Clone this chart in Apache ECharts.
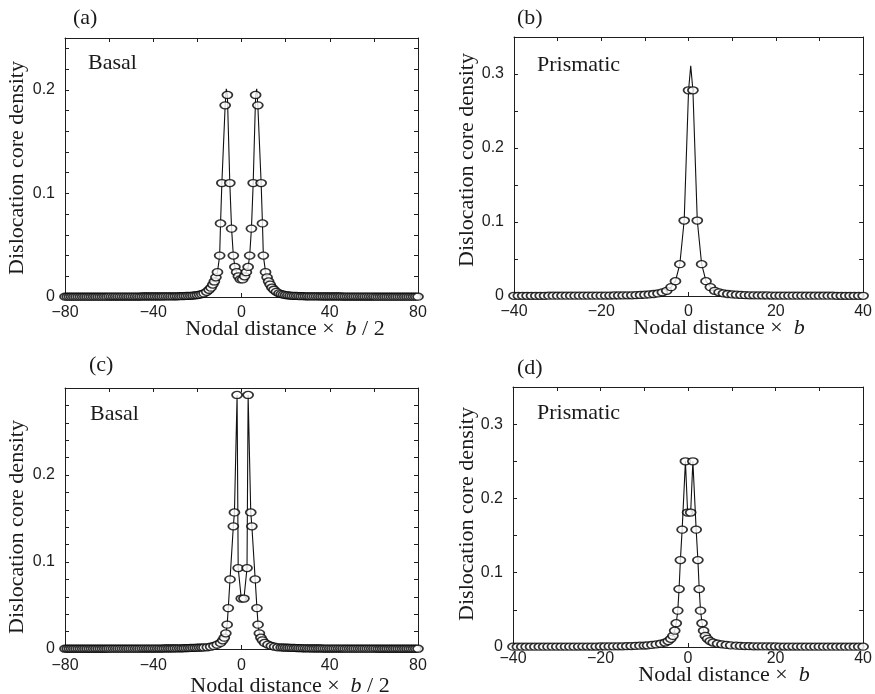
<!DOCTYPE html>
<html><head><meta charset="utf-8">
<script src="https://cdn.jsdelivr.net/npm/echarts/dist/echarts.min.js"></script>
<style>html,body{margin:0;padding:0;background:#fff}#c{width:875px;height:694px}</style>
</head><body><div id="c"></div>
<script>
// ---------- Panel (a) Basal ----------
const aTailLeftX = [-80,-79,-78,-77,-76,-75,-74,-73,-72,-71,-70,-69,-68,-67,-66,-65,-64,-63,-62,-61,-60,-59,-58,-57,-56,-55,-54,-53,-52,-51,-50,-49,-48,-47,-46,-45,-44,-43,-42,-41,-40,-39,-38,-37,-36,-35,-34,-33,-32,-31,-30,-29,-28,-27,-26,-25,-24,-23,-22,-21,-20,-19,-18,-17];
const aTailLeftY = [.0003,.0003,.0003,.0003,.0003,.0003,.0003,.0003,.0003,.0003,.0003,.0003,.0003,.0003,.0003,.0003,.0003,.0003,.0003,.0003,
 .0004,.0004,.0004,.0004,.0004,.0004,.0004,.0004,.0004,.0004,.0004,.0004,.0004,.0004,.0004,
 .0005,.0005,.0005,.0005,.0005,.0005,.0005,.0005,.0005,.0005,
 .0006,.0006,.0006,.0006,.0006,
 .0007,.0007,.0008,.0008,.0009,.001,.0011,.0012,.0014,.0016,.0019,.0023,.0028,.0035];
const aCoreX = [-15.8,-14.7,-13.8,-13.0,-12.3,-11.6,-10.9,-9.9,-9.5,-8.9,-7.4,-6.4,-5.3,-4.5,-3.7,-3.0,-2.2,-1.4,-0.5,
 0.5,1.4,2.2,3.0,3.7,4.5,5.3,6.4,7.4,8.9,9.5,9.9,10.9,11.6,12.3,13.0,13.8,14.7,15.8];
const aCoreY = [0.005,0.007,0.009,0.012,0.015,0.019,0.024,0.040,0.071,0.110,0.185,0.195,0.110,0.066,0.040,0.029,0.024,0.020,0.017,
 0.017,0.020,0.024,0.029,0.040,0.066,0.110,0.195,0.185,0.110,0.071,0.040,0.024,0.019,0.015,0.012,0.009,0.007,0.005];
const aTailRightX = [17,18,19,20,21,22,23,24,25,26,27,28,29,30,31,32,33,34,35,36,37,38,39,40,41,42,43,44,45,46,47,48,49,50,51,52,53,54,55,56,57,58,59,60,61,62,63,64,65,66,67,68,69,70,71,72,73,74,75,76,77,78,79,80];
const aTailRightY = [.0035,.0028,.0023,.0019,.0016,.0014,.0012,.0011,.001,.0009,.0008,.0008,.0007,.0007,
 .0006,.0006,.0006,.0006,.0006,
 .0005,.0005,.0005,.0005,.0005,.0005,.0005,.0005,.0005,.0005,
 .0004,.0004,.0004,.0004,.0004,.0004,.0004,.0004,.0004,.0004,.0004,.0004,.0004,.0004,.0004,
 .0003,.0003,.0003,.0003,.0003,.0003,.0003,.0003,.0003,.0003,.0003,.0003,.0003,.0003,.0003,.0003,.0003,.0003,.0003,.0003];
const aApexX = [-6.9, 6.9];
const aApexY = [0.201, 0.201];

// ---------- Panel (b) Prismatic ----------
const bX = [-40,-39,-38,-37,-36,-35,-34,-33,-32,-31,-30,-29,-28,-27,-26,-25,-24,-23,-22,-21,-20,-19,-18,-17,-16,-15,-14,-13,-12,-11,-10,-9,-8,-7,-6,-5,-4,-3,-2,-1,
 0,1,2,3,4,5,6,7,8,9,10,11,12,13,14,15,16,17,18,19,20,21,22,23,24,25,26,27,28,29,30,31,32,33,34,35,36,37,38,39,40];
const bY = [.0003,.0003,.0003,.0003,.0003,.0003,.0003,.0003,
 .0004,.0004,.0004,.0004,.0004,.0004,.0004,
 .0005,.0005,.0005,.0005,.0005,
 .0005,.0006,.0006,.0007,.0007,.0008,.0009,.001,.0012,.0014,.0017,.0021,.0027,.0035,.005,.007,.012,.020,.043,.102,
 .278,.278,.102,.043,.020,.012,.007,.005,.0035,.0027,.0021,.0017,.0014,.0012,.001,.0009,.0008,.0007,.0007,.0006,.0006,.0005,
 .0005,.0005,.0005,.0005,.0005,
 .0004,.0004,.0004,.0004,.0004,.0004,.0004,
 .0003,.0003,.0003,.0003,.0003,.0003,.0003];
const bApexX = [0.5];
const bApexY = [0.311];

// ---------- Panel (c) Basal ----------
const cTailLeftX = [-80,-79,-78,-77,-76,-75,-74,-73,-72,-71,-70,-69,-68,-67,-66,-65,-64,-63,-62,-61,-60,-59,-58,-57,-56,-55,-54,-53,-52,-51,-50,-49,-48,-47,-46,-45,-44,-43,-42,-41,-40,-39,-38,-37,-36,-35,-34,-33,-32,-31,-30,-29,-28,-27,-26,-25,-24,-23,-22,-21,-20,-19,-18,-17];
const cTailLeftY = [.0003,.0003,.0003,.0003,.0003,.0003,.0003,.0003,.0003,.0003,.0003,.0003,.0003,.0003,.0003,.0003,.0003,.0003,.0003,.0003,
 .0004,.0004,.0004,.0004,.0004,.0004,.0004,.0004,.0004,.0004,.0004,.0004,.0004,.0004,.0004,
 .0005,.0005,.0005,.0005,.0005,.0005,.0005,.0005,.0005,.0005,
 .0006,.0006,.0006,.0006,.0006,
 .0007,.0007,.0008,.0008,.0009,.001,.0011,.0012,.0013,.0014,.0015,.0016,.0017,.0018];
const cCoreX = [-15.5,-14,-12.5,-11,-9.5,-8.5,-7.8,-7.1,-6.5,-6.0,-5.2,-3.7,-3.2,-2.0,-1.5,-0.1,
 1.1,2.5,3.0,4.2,4.7,6.2,7.0,7.5,8.1,8.8,9.5,10.5,12,13.5,15,16.5];
const cCoreY = [0.002,0.0026,0.0035,0.005,0.007,0.010,0.013,0.018,0.028,0.047,0.080,0.141,0.157,0.292,0.093,0.058,
 0.058,0.093,0.292,0.157,0.141,0.080,0.047,0.028,0.018,0.013,0.010,0.007,0.005,0.0035,0.0026,0.002];
const cTailRightX = [18,19,20,21,22,23,24,25,26,27,28,29,30,31,32,33,34,35,36,37,38,39,40,41,42,43,44,45,46,47,48,49,50,51,52,53,54,55,56,57,58,59,60,61,62,63,64,65,66,67,68,69,70,71,72,73,74,75,76,77,78,79,80];
const cTailRightY = [.0018,.0017,.0016,.0015,.0014,.0013,.0012,.0011,.001,.0009,.0008,.0008,.0007,.0007,
 .0006,.0006,.0006,.0006,.0006,
 .0005,.0005,.0005,.0005,.0005,.0005,.0005,.0005,.0005,.0005,
 .0004,.0004,.0004,.0004,.0004,.0004,.0004,.0004,.0004,.0004,.0004,.0004,.0004,.0004,.0004,
 .0003,.0003,.0003,.0003,.0003,.0003,.0003,.0003,.0003,.0003,.0003,.0003,.0003,.0003,.0003,.0003,.0003,.0003,.0003];

// ---------- Panel (d) Prismatic ----------
const dTailLeftX = [-40,-39,-38,-37,-36,-35,-34,-33,-32,-31,-30,-29,-28,-27,-26,-25,-24,-23,-22,-21,-20,-19,-18,-17,-16,-15,-14,-13,-12,-11,-10];
const dTailLeftY = [.0004,.0004,.0004,.0004,.0004,.0004,.0004,.0004,
 .0005,.0005,.0005,.0005,.0005,.0005,.0005,
 .0006,.0006,.0006,.0006,.0006,
 .0007,.0007,.0008,.0008,.0009,.001,.0011,.0013,.0015,.0018,.0019];
const dCoreX = [-9.25,-8.25,-7.25,-6.25,-5.25,-4.55,-3.95,-3.45,-3.05,-2.7,-2.35,-2.05,-1.75,-1.35,-0.6,-0.1,
 0.6,1.1,1.85,2.25,2.55,2.85,3.2,3.55,3.95,4.45,5.05,5.75,6.75,7.75,8.75,9.75];
const dCoreY = [0.0022,0.0028,0.0035,0.0045,0.006,0.008,0.011,0.015,0.022,0.032,0.049,0.078,0.117,0.158,0.250,0.181,
 0.181,0.250,0.158,0.117,0.078,0.049,0.032,0.022,0.015,0.011,0.008,0.006,0.0045,0.0035,0.0028,0.0022];
const dTailRightX = [11,12,13,14,15,16,17,18,19,20,21,22,23,24,25,26,27,28,29,30,31,32,33,34,35,36,37,38,39,40];
const dTailRightY = [.0018,.0015,.0013,.0011,.001,.0009,.0008,.0008,.0007,.0007,
 .0006,.0006,.0006,.0006,.0006,
 .0005,.0005,.0005,.0005,.0005,.0005,.0005,
 .0004,.0004,.0004,.0004,.0004,.0004,.0004,.0004];

// ---------- tick label sets ----------
const xLabelsAC = [-80,-40,0,40,80];
const xLabelsBD = [-40,-20,0,20,40];
const yLabelsA = [0,0.1,0.2];
const yLabelsB = [0,0.1,0.2,0.3];
const yLabelsC = [0,0.1,0.2];
const yLabelsD = [0,0.1,0.2,0.3];

// ---------- build ----------
function zip(xs, ys){ return xs.map((x,i)=>[x, ys[i]]); }
function byX(a,b){ return a[0]-b[0]; }

const aPts = zip(aTailLeftX,aTailLeftY).concat(zip(aCoreX,aCoreY), zip(aTailRightX,aTailRightY));
const aLine = aPts.concat(zip(aApexX,aApexY)).sort(byX);
const bPts = zip(bX,bY);
const bLine = bPts.concat(zip(bApexX,bApexY)).sort(byX);
const cPts = zip(cTailLeftX,cTailLeftY).concat(zip(cCoreX,cCoreY), zip(cTailRightX,cTailRightY));
const cLine = cPts.slice().sort(byX);
const dPts = zip(dTailLeftX,dTailLeftY).concat(zip(dCoreX,dCoreY), zip(dTailRightX,dTailRightY));
const dLine = dPts.slice().sort(byX);

const panels = [
  {grid:{left:65,top:38,width:353,height:259}, xmin:-80,xmax:80,xint:20,xl:xLabelsAC, ymax:0.25,yint:0.02,yl:yLabelsA, xm:8, pts:aPts, line:aLine},
  {grid:{left:514,top:37,width:353,height:259}, xmin:-40,xmax:40,xint:10,xl:xLabelsBD, ymax:0.35,yint:0.05,yl:yLabelsB, xm:8, pts:bPts, line:bLine},
  {grid:{left:65,top:388,width:353,height:261}, xmin:-80,xmax:80,xint:20,xl:xLabelsAC, ymax:0.3,yint:0.02,yl:yLabelsC, xm:9, pts:cPts, line:cLine},
  {grid:{left:513,top:387,width:353,height:260}, xmin:-40,xmax:40,xint:10,xl:xLabelsBD, ymax:0.35,yint:0.05,yl:yLabelsD, xm:4, pts:dPts, line:dLine}
];

const AX = '#1e1e1e';
const labelFont = {fontFamily:'Liberation Sans', fontSize:16, color:'#1e1e1e'};
const grids=[], xAxes=[], yAxes=[], series=[];
panels.forEach((p,i)=>{
  grids.push(Object.assign({containLabel:false}, p.grid));
  const xf = v => p.xl.some(l=>Math.abs(l-v)<1e-9) ? (v<0 ? '\u2212'+Math.abs(v) : String(v)) : '';
  const yf = v => p.yl.some(l=>Math.abs(l-v)<1e-9) ? String(+v.toFixed(2)) : '';
  const common = {type:'value', gridIndex:i, splitLine:{show:false},
    axisLine:{show:true,onZero:false,lineStyle:{color:AX,width:1}},
    axisTick:{show:true,inside:true,length:4,lineStyle:{color:AX,width:1}}};
  xAxes.push(Object.assign({}, common, {position:'bottom', min:p.xmin, max:p.xmax, interval:p.xint,
    axisLabel:Object.assign({formatter:xf, margin:p.xm, showMinLabel:true, showMaxLabel:true}, labelFont)}));
  xAxes.push(Object.assign({}, common, {position:'top', min:p.xmin, max:p.xmax, interval:p.xint, axisLabel:{show:false}}));
  yAxes.push(Object.assign({}, common, {position:'left', min:0, max:p.ymax, interval:p.yint,
    axisLabel:Object.assign({formatter:yf, margin:10, showMinLabel:true, showMaxLabel:true}, labelFont)}));
  yAxes.push(Object.assign({}, common, {position:'right', min:0, max:p.ymax, interval:p.yint, axisLabel:{show:false}}));
  series.push({type:'line', xAxisIndex:2*i, yAxisIndex:2*i, data:p.line, showSymbol:false, symbol:'none',
    lineStyle:{color:'#111',width:1.1}, animation:false, z:2});
  series.push({type:'scatter', xAxisIndex:2*i, yAxisIndex:2*i, data:p.pts, symbol:'circle', symbolSize:[10,7],
    itemStyle:{color:'#fff', borderColor:'#000', borderWidth:1.5}, animation:false, z:3});
});

const serif = 'Liberation Serif';
function txt(x,y,text,opts){
  return Object.assign({type:'text', x:x, y:y, style:Object.assign({text:text, fontFamily:serif, fontSize:22, fill:'#1a1a1a',
    textAlign:'left', textVerticalAlign:'middle'}, opts||{})});
}
const richI = {i:{fontStyle:'italic', fontFamily:serif, fontSize:22, fill:'#1a1a1a'}};
const graphics = [
  txt(73,18,'(a)'), txt(517,18,'(b)'), txt(89,365,'(c)'), txt(517,368,'(d)'),
  txt(88,63,'Basal'), txt(537,65,'Prismatic'), txt(90,414,'Basal'), txt(537,413,'Prismatic'),
  txt(285,329,'Nodal distance \u00d7  {i|b} / 2',{textAlign:'center', rich:richI}),
  txt(719,328,'Nodal distance \u00d7  {i|b}',{textAlign:'center', rich:richI}),
  txt(290,686,'Nodal distance \u00d7  {i|b} / 2',{textAlign:'center', rich:richI}),
  txt(724,675,'Nodal distance \u00d7  {i|b}',{textAlign:'center', rich:richI}),
];
[[17,168],[467,160],[17,527],[467,514]].forEach(([x,y])=>{
  const g = txt(x,y,'Dislocation core density',{textAlign:'center'});
  g.rotation = Math.PI/2;
  graphics.push(g);
});

const chart = echarts.init(document.getElementById('c'), null, {renderer:'canvas'});
chart.setOption({
  animation:false,
  backgroundColor:'#ffffff',
  grid:grids, xAxis:xAxes, yAxis:yAxes, series:series,
  graphic:{elements:graphics}
});
</script></body></html>
